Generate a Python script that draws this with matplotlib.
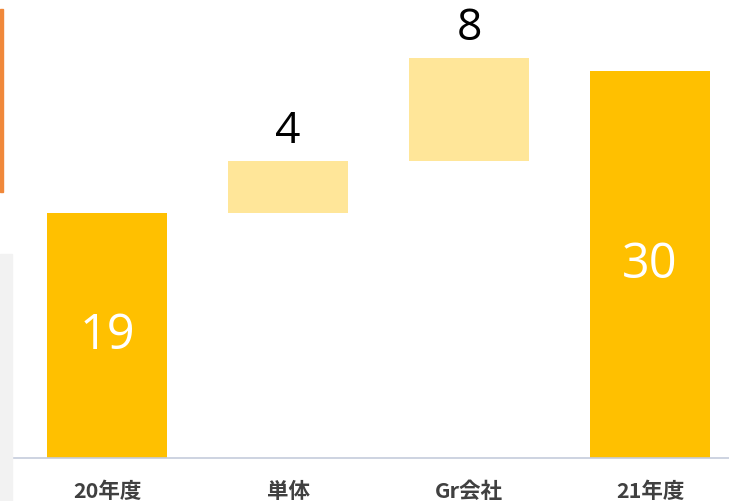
import matplotlib
matplotlib.use("Agg")
import matplotlib.pyplot as plt
from matplotlib.patches import Rectangle

plt.rcParams["font.family"] = ["Noto Sans CJK JP", "DejaVu Sans"]

categories = ["20年度", "単体", "Gr会社", "21年度"]
values = [19, 4, 8, 30]
bases = [0, 19, 23, 0]
is_total = [True, False, False, True]
labels = ["19", "4", "8", "30"]

GOLD, LIGHT = "#FFC000", "#FFE699"

fig = plt.figure(figsize=(7.29, 5.02), dpi=100)
# screenshot leftovers: grey side panel and orange accent line
fig.patches.append(Rectangle((0, 0), 12 / 729, 247 / 502, transform=fig.transFigure,
                             color="#F2F2F2", zorder=0))
fig.patches.append(Rectangle((0, 309 / 502), 3 / 729, 183 / 502, transform=fig.transFigure,
                             color="#F0883A", zorder=0))

ax = fig.add_axes([12 / 729, 43 / 502, 717 / 729, 459 / 502])
ax.patch.set_alpha(0)
x = range(len(categories))
colors = [GOLD if t else LIGHT for t in is_total]
ax.bar(x, values, bottom=bases, width=0.663, color=colors)

for i, (v, b, t, lab) in enumerate(zip(values, bases, is_total, labels)):
    if t:
        ax.text(i, b + v / 2, lab, ha="center", va="center", color="white",
                fontsize=35, family="Open Sans")
    else:
        ax.text(i, b + v + 2.4, lab, ha="center", va="center", color="black",
                fontsize=32, family="Open Sans")

ax.set_xlim(-0.525, 3.436)
ax.set_ylim(0, 35.6)
ax.set_xticks(list(x))
ax.set_xticklabels(categories, fontsize=15.5, fontweight="bold", color="#404040")
ax.tick_params(axis="x", length=0, pad=16)
ax.set_yticks([])
for s in ["top", "right", "left"]:
    ax.spines[s].set_visible(False)
ax.spines["bottom"].set_color("#C5CCDB")
ax.spines["bottom"].set_linewidth(1.2)

fig.savefig("out.png", dpi=100)
